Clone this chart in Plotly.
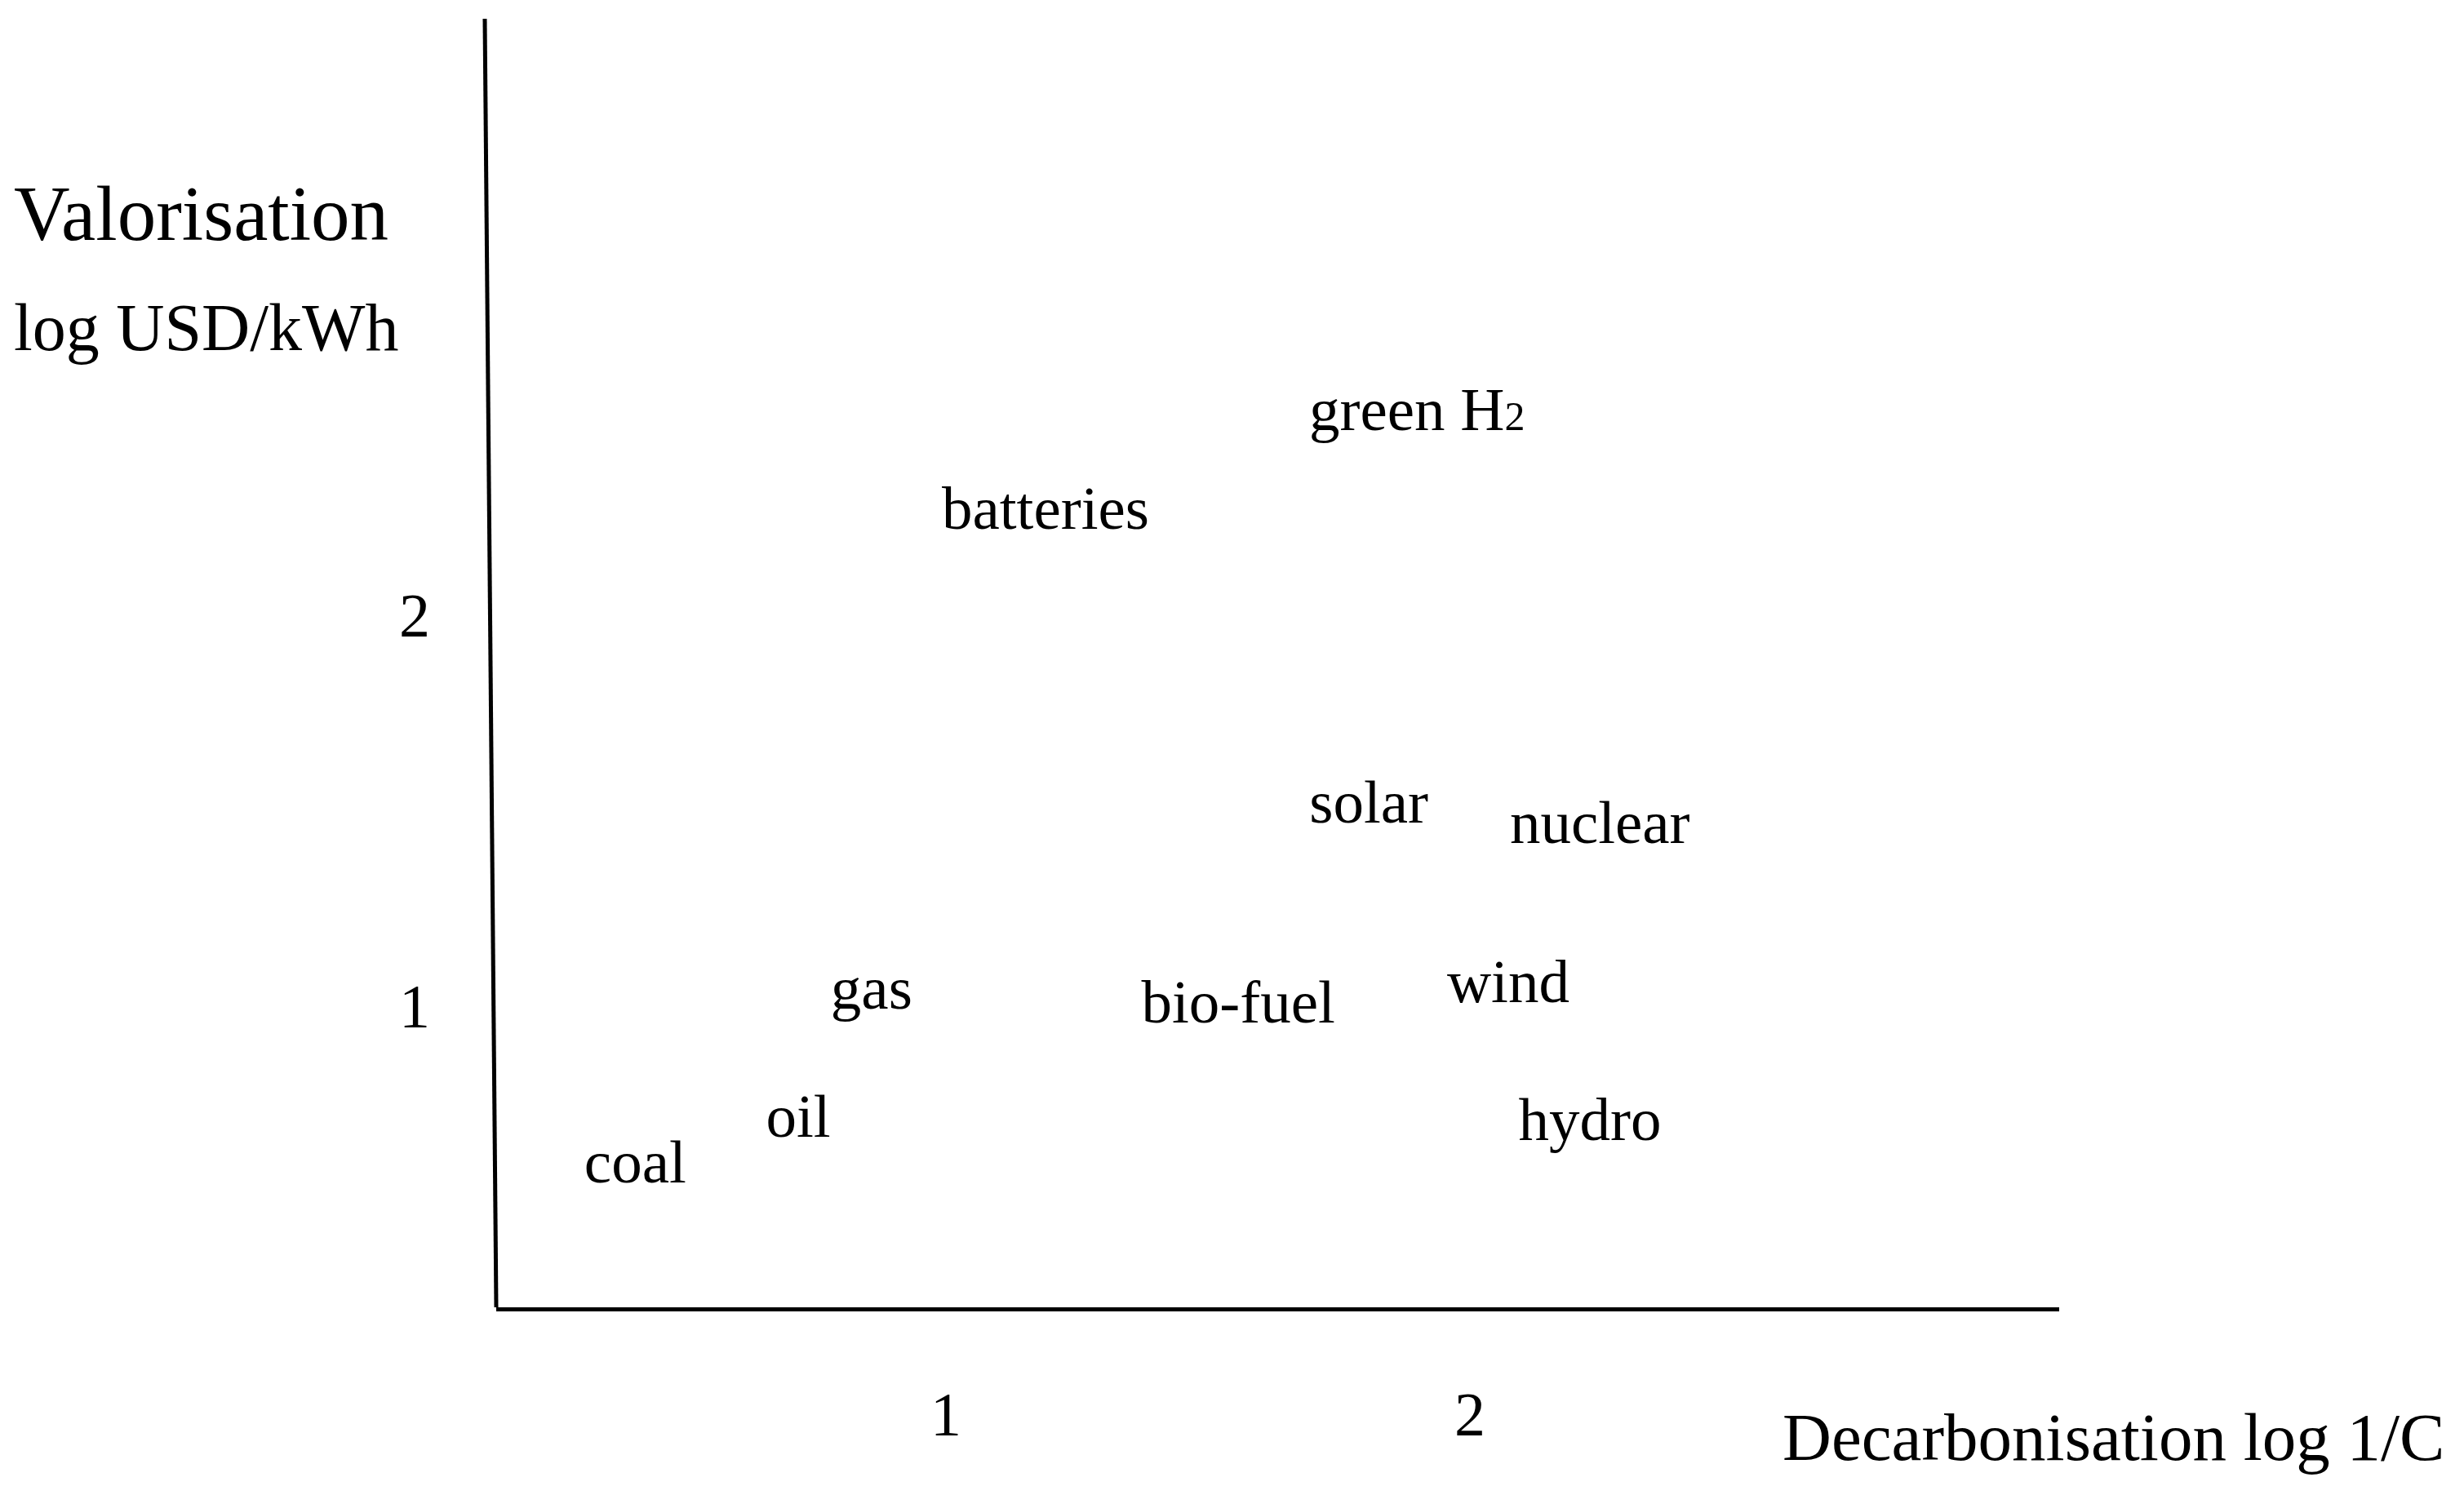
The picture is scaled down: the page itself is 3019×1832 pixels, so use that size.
import plotly.graph_objects as go

# positions, in axis units
sources = ["coal", "oil", "gas", "bio-fuel", "wind", "hydro",
           "solar", "nuclear", "batteries",
           "green H<span style='font-size:50px'>2</span>"]
decarb = [0.407, 0.718, 0.858, 1.558, 2.073, 2.229, 1.807, 2.248, 1.190, 1.899]
valor = [0.587, 0.704, 1.031, 0.996, 1.048, 0.695, 1.507, 1.455, 2.259, 2.511]

x_ticks = [1, 2]
y_ticks = [1, 2]

FONT = "Liberation Serif"
W, H = 3019, 1832
# page body adds 8px on the left and top
M = dict(l=600, r=504, t=15, b=238)

fig = go.Figure()
fig.add_trace(go.Scatter(
    x=decarb, y=valor, text=sources, mode="text",
    textposition="middle center",
    textfont=dict(family=FONT, size=75, color="black"),
    cliponaxis=False, showlegend=False, hoverinfo="skip",
))

fig.update_layout(
    width=W, height=H, margin=M,
    paper_bgcolor="white", plot_bgcolor="white",
    font=dict(family=FONT, color="black"),
)
fig.update_xaxes(
    range=[0.1417, 3.1246], tickvals=x_ticks, ticktext=[str(v) for v in x_ticks],
    showgrid=False, zeroline=False, showline=True, linecolor="black", linewidth=5,
    ticks="", tickfont=dict(family=FONT, size=76, color="black"),
    ticklabelstandoff=61,
)
fig.update_yaxes(
    range=[0.2276, 3.524], tickvals=y_ticks, ticktext=[str(v) for v in y_ticks],
    showgrid=False, zeroline=False, showline=False,
    ticks="", tickfont=dict(family=FONT, size=76, color="black"),
    ticklabelstandoff=80,
)

# hand-drawn y axis leans slightly to the left at the top
lean = 14 / (W - M["l"] - M["r"])
fig.add_shape(type="line", xref="paper", yref="paper",
              x0=0.0, y0=0.0, x1=-lean, y1=1.0,
              line=dict(color="black", width=5))

fig.add_annotation(text="Valorisation", xref="paper", yref="paper",
                   x=-0.3097, y=0.8486, xanchor="left", yanchor="middle",
                   showarrow=False, font=dict(family=FONT, size=95, color="black"))
fig.add_annotation(text="log USD/kWh", xref="paper", yref="paper",
                   x=-0.3097, y=0.760, xanchor="left", yanchor="middle",
                   showarrow=False, font=dict(family=FONT, size=82, color="black"))
fig.add_annotation(text="Decarbonisation log 1/C", xref="paper", yref="paper",
                   x=1.2475, y=-0.1007, xanchor="right", yanchor="middle",
                   showarrow=False, font=dict(family=FONT, size=83, color="black"))

fig.write_html("out.html")
